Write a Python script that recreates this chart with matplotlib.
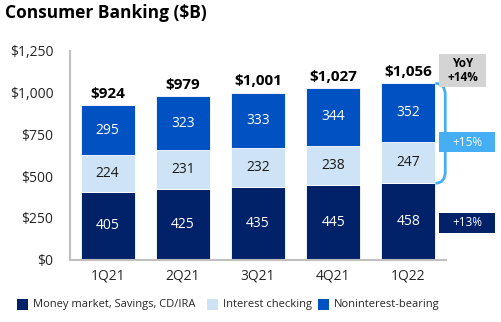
import matplotlib
matplotlib.use("Agg")
import matplotlib.pyplot as plt
from matplotlib.patches import Rectangle, PathPatch
from matplotlib.path import Path

plt.rcParams['font.family'] = ['Open Sans', 'DejaVu Sans']

quarters = ["1Q21", "2Q21", "3Q21", "4Q21", "1Q22"]
money_market = [405, 425, 435, 445, 458]
interest_checking = [224, 231, 232, 238, 247]
noninterest = [295, 323, 333, 344, 352]
totals = [924, 979, 1001, 1027, 1056]
total_labels = ["$924", "$979", "$1,001", "$1,027", "$1,056"]
yticks = [0, 250, 500, 750, 1000, 1250]
ytick_labels = ["$0", "$250", "$500", "$750", "$1,000", "$1,250"]
series_names = ["Money market, Savings, CD/IRA", "Interest checking", "Noninterest-bearing"]

NAVY = "#012169"
LIGHT = "#cfe3f6"
BLUE = "#0052c2"
SKY = "#45aef5"
GRAY_BOX = "#d4d4d4"
SPINE = "#bfbfbf"

fig = plt.figure(figsize=(5.01, 3.22), dpi=100)
ax = fig.add_axes([70 / 501, 1 - 259.7 / 322, 376 / 501, (259.7 - 51) / 322])

x = list(range(len(quarters)))
w = 0.72
bottom2 = money_market
bottom3 = [a + b for a, b in zip(money_market, interest_checking)]

ax.bar(x, money_market, width=w, color=NAVY, edgecolor="white", linewidth=0.6)
ax.bar(x, interest_checking, width=w, bottom=bottom2, color=LIGHT, edgecolor="white", linewidth=0.6)
ax.bar(x, noninterest, width=w, bottom=bottom3, color=BLUE, edgecolor="white", linewidth=0.6)

for i in x:
    ax.text(i, money_market[i] / 2, str(money_market[i]), ha="center", va="center",
            color="white", fontsize=10)
    ax.text(i, bottom2[i] + interest_checking[i] / 2, str(interest_checking[i]), ha="center",
            va="center", color="#1a1a1a", fontsize=10)
    ax.text(i, bottom3[i] + noninterest[i] / 2, str(noninterest[i]), ha="center", va="center",
            color="white", fontsize=10)
    ax.text(i, totals[i] + 25, total_labels[i], ha="center", va="bottom", color="black",
            fontsize=11, fontweight="bold")

ax.set_xlim(-0.5, 4.5)
ax.set_ylim(0, 1250)
ax.set_xticks(x)
ax.set_xticklabels(quarters, fontsize=10, color="#262626")
ax.set_yticks(yticks)
ax.set_yticklabels(ytick_labels, fontsize=10, color="#262626")
ax.tick_params(axis="both", length=0)
ax.tick_params(axis="y", pad=12)
ax.tick_params(axis="x", pad=6)
for s in ["top", "right"]:
    ax.spines[s].set_visible(False)
for s in ["left", "bottom"]:
    ax.spines[s].set_color(SPINE)
    ax.spines[s].set_linewidth(1.5)

# growth bracket around checking + noninterest-bearing segments of the last bar
x0, x1 = 4.36, 4.49
y_top, y_bot = totals[-1], money_market[-1]
r = 70
verts = [(x0, y_top), (x1, y_top), (x1, y_top - r), (x1, y_bot + r), (x1, y_bot), (x0, y_bot)]
codes = [Path.MOVETO, Path.CURVE3, Path.CURVE3, Path.LINETO, Path.CURVE3, Path.CURVE3]
ax.add_patch(PathPatch(Path(verts, codes), fill=False, edgecolor=SKY, linewidth=2, clip_on=False))

# annotation boxes to the right of the axes (figure pixel coordinates)
def px_box(x_left, y_top_px, x_right, y_bot_px, color):
    fig.patches.append(Rectangle((x_left / 501, 1 - y_bot_px / 322),
                                 (x_right - x_left) / 501, (y_bot_px - y_top_px) / 322,
                                 transform=fig.transFigure, facecolor=color, edgecolor="none"))

px_box(439, 54, 486, 87, GRAY_BOX)
fig.text(462.5 / 501, 1 - 70.5 / 322, "YoY\n+14%", ha="center", va="center", fontsize=8.5,
         fontweight="bold", color="black", linespacing=1.05)
px_box(439, 132, 495, 152, SKY)
fig.text(467 / 501, 1 - 142 / 322, "+15%", ha="center", va="center", fontsize=8.5, color="white")
px_box(439, 213, 495, 233, NAVY)
fig.text(467 / 501, 1 - 223 / 322, "+13%", ha="center", va="center", fontsize=8.5, color="white")

fig.text(5 / 501, 1 - 13 / 322, "Consumer Banking ($B)", ha="left", va="center", fontsize=12.5,
         fontweight="bold", color="black")

# legend row
leg_colors = [NAVY, LIGHT, BLUE]
leg_x = [17, 207, 318]
for cx, col, name in zip(leg_x, leg_colors, series_names):
    px_box(cx, 299, cx + 11, 310, col)
    fig.text((cx + 16) / 501, 1 - 305 / 322, name, ha="left", va="center", fontsize=8,
             color="#262626")

fig.savefig("out.png", dpi=100)
